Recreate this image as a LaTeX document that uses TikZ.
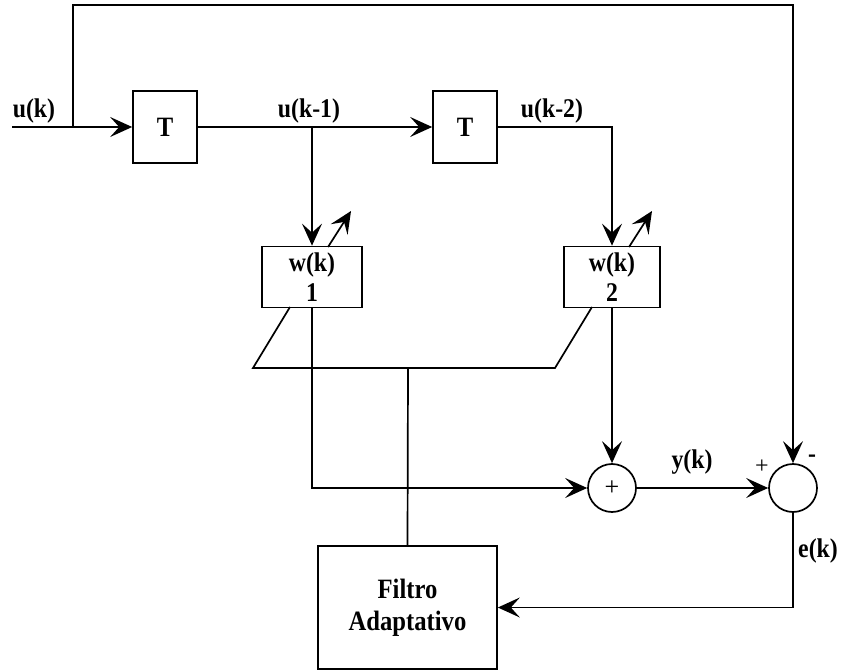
\documentclass[tikz,border=0pt]{standalone}
\usepackage{fontspec}
\setmainfont{Liberation Serif}
\newfontfamily\dfont[FakeStretch=0.88]{Liberation Serif}
\usetikzlibrary{arrows.meta}
\begin{document}
\begin{tikzpicture}[x=1pt,y=-1pt,
  line width=1.7pt,
  arr/.style={-{Stealth[length=22pt,width=20pt,inset=9pt]}},
  lbl/.style={font=\dfont\fontsize{27}{30}\selectfont\bfseries, inner sep=0pt, anchor=base},
  tbox/.style={draw, minimum width=64pt, minimum height=72pt, inner sep=0pt, font=\dfont\fontsize{28}{30}\selectfont\bfseries},
  wbox/.style={draw, minimum height=61pt, inner sep=0pt, align=center, font=\dfont\fontsize{27}{30}\selectfont\bfseries},
  fbox/.style={draw, minimum width=179pt, minimum height=123pt, inner sep=0pt, align=center, font=\dfont\fontsize{28}{32}\selectfont\bfseries},
  sumc/.style={draw, circle, minimum size=48pt, inner sep=0pt, font=\fontsize{26}{28}\selectfont}
]
\useasboundingbox (0,0) rectangle (846,671);

% blocks
\node[tbox] (T1) at (165,127) {T};
\node[tbox] (T2) at (465,127) {T};
\node[wbox, minimum width=100pt] (w1) at (312,277) {w(k)\\1};
\node[wbox, minimum width=96pt] (w2) at (612,277) {w(k)\\2};
\node[sumc] (s1) at (612,488) {+};
\node[sumc] (s2) at (793,488) {};
\node[fbox] (filt) at (407.5,607.5) {Filtro\\Adaptativo};

% coordinates
\coordinate (in) at (12,127);
\coordinate (j0) at (73,127);
\coordinate (top) at (793,5);
\coordinate (j1) at (312,127);
\coordinate (jm) at (408,368);
\coordinate (pl) at (253,368);
\coordinate (pr) at (555,368);
\coordinate (a1s) at (328,247);
\coordinate (a1e) at (351,211);
\coordinate (a2s) at (629,247);
\coordinate (a2e) at (652,211);
\coordinate (b1) at (290,307);
\coordinate (b2) at (592,307);

% connectors
\draw[arr] (in) -- (T1.west);
\draw[arr] (j0) |- (top) -- (s2.north);
\draw[arr] (T1.east) -- (T2.west);
\draw[arr] (j1) -- (w1.north);
\draw[arr] (T2.east) -| (w2.north);
\draw[arr] (a1s) -- (a1e);
\draw[arr] (a2s) -- (a2e);
\draw (b1) -- (pl) -- (pr) -- (b2);
\draw (jm) -- (filt.north);
\draw[arr] (w1.south) |- (s1.west);
\draw[arr] (w2.south) -- (s1.north);
\draw[arr] (s1.east) -- (s2.west);
\draw[arr] (s2.south) |- (filt.east);

% labels
\node[lbl] (lu) at (34,118) {u(k)};
\node[lbl] (lu1) at (309,118) {u(k-1)};
\node[lbl] (lu2) at (552,118) {u(k-2)};
\node[lbl] (ly) at (692,468) {y(k)};
\node[lbl] (le) at (818,557) {e(k)};
\node[font=\fontsize{24}{26}\selectfont, inner sep=0pt] (lp) at (762,467) {+};
\node[lbl] (lm) at (812,462) {-};
\end{tikzpicture}
\end{document}
